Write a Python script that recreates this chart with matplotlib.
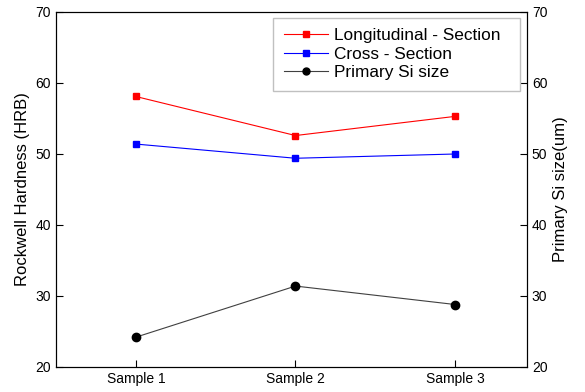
import matplotlib
matplotlib.use('Agg')
import matplotlib.pyplot as plt
from matplotlib.lines import Line2D

plt.rcParams['font.family'] = 'Liberation Sans'

# data
samples = ['Sample 1', 'Sample 2', 'Sample 3']
x_pos = [1, 2, 3]
longitudinal = [58.1, 52.6, 55.3]
cross = [51.4, 49.4, 50.0]
si_size = [24.2, 31.4, 28.8]

fig = plt.figure(figsize=(5.85, 3.92), dpi=100)
ax = fig.add_axes([56 / 585, 1 - 367 / 392, 471 / 585, 355 / 392])
ax2 = ax.twinx()

ax.plot(x_pos, longitudinal, color='red', lw=0.8, marker='s', ms=5)
ax.plot(x_pos, cross, color='blue', lw=0.8, marker='s', ms=5)
ax2.plot(x_pos, si_size, color='#404040', lw=0.8, marker='o', ms=6,
         mfc='black', mec='black')

ax.set_xlim(0.5, 3.45)
ax.set_ylim(20, 70)
ax2.set_ylim(20, 70)
ax.set_xticks(x_pos)
ax.set_xticklabels(samples)
ax.set_yticks(range(20, 71, 10))
ax2.set_yticks(range(20, 71, 10))

ax.tick_params(direction='in', labelsize=10, length=5)
ax2.tick_params(direction='in', labelsize=10, length=5)
ax.set_ylabel('Rockwell Hardness (HRB)', fontsize=12)
ax2.set_ylabel('Primary Si size(um)', fontsize=12)

handles = [
    Line2D([], [], color='red', lw=0.8, marker='s', ms=5),
    Line2D([], [], color='blue', lw=0.8, marker='s', ms=5),
    Line2D([], [], color='#404040', lw=0.8, marker='o', ms=5,
           mfc='black', mec='black'),
]
labels = ['Longitudinal - Section  ', 'Cross - Section', 'Primary Si size']
leg = ax2.legend(handles, labels, loc='upper right', fontsize=12.4,
                 fancybox=False, framealpha=1, edgecolor='#c0c0c0',
                 handlelength=2.6, handletextpad=0.3, labelspacing=0.2,
                 borderpad=0.6, borderaxespad=0, bbox_to_anchor=(0.985, 0.983))

plt.savefig('out.png')
plt.close()
